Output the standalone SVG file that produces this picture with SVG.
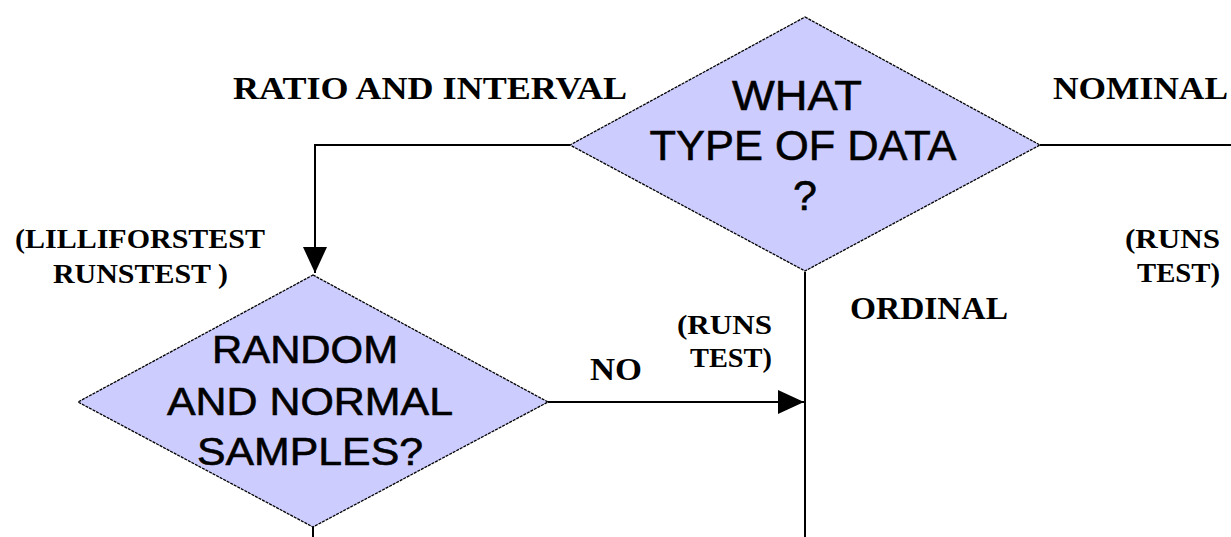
<svg xmlns="http://www.w3.org/2000/svg" width="1231" height="537" viewBox="0 0 1231 537">
<defs>
<marker id="arr" markerWidth="26" markerHeight="24" refX="26" refY="12" orient="auto" markerUnits="userSpaceOnUse">
<path d="M0,0 L26,12 L0,24 Z" fill="#000"/>
</marker>
<style>
.dia{fill:#ccccff;stroke:#000;stroke-width:1.3;stroke-dasharray:3 1}
.q{font-family:"Liberation Sans",Arial,sans-serif;fill:#000;stroke:#000;stroke-width:0.6;text-anchor:middle}
.lbl{font-family:"Liberation Serif","Times New Roman",serif;font-weight:bold;fill:#000}
.con{fill:none;stroke:#000;stroke-width:2}
</style>
</defs>
<rect width="1231" height="537" fill="#fff"/>
<g id="connectors">
<polyline class="con" points="570,145 315,145 315,273" marker-end="url(#arr)"/>
<line class="con" x1="1040" y1="145" x2="1231" y2="145"/>
<line class="con" x1="805" y1="272" x2="805" y2="537"/>
<line class="con" x1="548" y1="402" x2="804" y2="402" marker-end="url(#arr)"/>
<line class="con" x1="313" y1="527" x2="313" y2="537"/>
</g>
<g id="node-type">
<polygon class="dia" points="805,17 1040,145 805,271 570,145"/>
<text class="q" font-size="43" x="797" y="110" textLength="130" lengthAdjust="spacingAndGlyphs">WHAT</text>
<text class="q" font-size="43" x="803" y="160" textLength="307" lengthAdjust="spacingAndGlyphs">TYPE OF DATA</text>
<text class="q" font-size="43" x="805" y="210">?</text>
</g>
<g id="node-random">
<polygon class="dia" points="313,275 548,402 313,527 78,402"/>
<text class="q" font-size="38" x="305" y="363" textLength="186" lengthAdjust="spacingAndGlyphs">RANDOM</text>
<text class="q" font-size="38" x="310" y="415" textLength="286" lengthAdjust="spacingAndGlyphs">AND NORMAL</text>
<text class="q" font-size="38" x="310" y="465" textLength="226" lengthAdjust="spacingAndGlyphs">SAMPLES?</text>
</g>
<g id="labels">
<text class="lbl" font-size="31" x="233" y="99" textLength="394" lengthAdjust="spacingAndGlyphs">RATIO AND INTERVAL</text>
<text class="lbl" font-size="31" x="1053" y="99" textLength="175" lengthAdjust="spacingAndGlyphs">NOMINAL</text>
<text class="lbl" font-size="31" x="850" y="319" textLength="158" lengthAdjust="spacingAndGlyphs">ORDINAL</text>
<text class="lbl" font-size="27" x="15" y="248" textLength="250" lengthAdjust="spacingAndGlyphs">(LILLIFORSTEST</text>
<text class="lbl" font-size="27" x="53" y="283" textLength="175" lengthAdjust="spacingAndGlyphs">RUNSTEST )</text>
<text class="lbl" font-size="27" x="1125" y="248" textLength="95" lengthAdjust="spacingAndGlyphs">(RUNS</text>
<text class="lbl" font-size="27" x="1137" y="282" textLength="83" lengthAdjust="spacingAndGlyphs">TEST)</text>
<text class="lbl" font-size="27" x="677" y="334" textLength="95" lengthAdjust="spacingAndGlyphs">(RUNS</text>
<text class="lbl" font-size="27" x="690" y="367" textLength="82" lengthAdjust="spacingAndGlyphs">TEST)</text>
<text class="lbl" font-size="31" x="590" y="380" textLength="52" lengthAdjust="spacingAndGlyphs">NO</text>
</g>
</svg>
